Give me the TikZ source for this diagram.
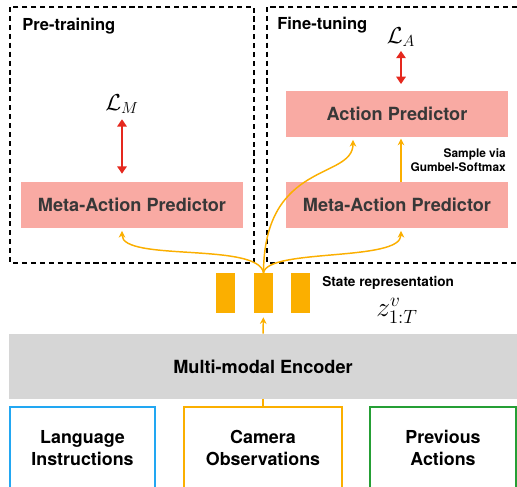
\documentclass[tikz,border=0pt]{standalone}
\usepackage[no-math]{fontspec}
\newfontfamily\hv{TeX Gyre Heros}
\usetikzlibrary{arrows.meta}
\definecolor{predpink}{HTML}{F9AAA3}
\definecolor{encgray}{HTML}{D6D6D6}
\definecolor{statorange}{HTML}{FBAF00}
\definecolor{inblue}{HTML}{22A7F2}
\definecolor{ingreen}{HTML}{259F35}
\definecolor{lossred}{HTML}{E5281E}
\definecolor{predtext}{HTML}{383838}
\tikzset{
  stage/.style={draw, line width=1.5pt, dash pattern=on 3.8pt off 2.9pt},
  title/.style={inner sep=0pt, font=\hv\bfseries\fontsize{12.4}{15}\selectfont},
  pred/.style={fill=predpink, text=predtext, inner sep=0pt,
    minimum width=166.5pt, minimum height=34.5pt,
    font=\hv\bfseries\fontsize{13.6}{16}\selectfont},
  bar/.style={fill=statorange, inner sep=0pt, minimum width=14.25pt, minimum height=30pt},
  inbox/.style={draw, line width=1.3pt, align=center, inner sep=0pt, minimum height=61.5pt,
    font=\hv\bfseries\fontsize{13.4}{16.5}\selectfont},
  lossname/.style={inner sep=0pt, font=\fontsize{17.28}{20}\selectfont},
  loss/.style={lossred, line width=2pt,
    {Triangle[width=7pt,length=5.5pt]}-{Triangle[width=7pt,length=5.5pt]}},
  feed/.style={statorange, line width=1.1pt, -{Stealth[length=5pt,width=5pt]}},
}
\begin{document}
\begin{tikzpicture}[x=0.75pt, y=-0.75pt]
      \clip (0,0) rectangle (517,486);
      \draw[stage] (10,7) rectangle (254,263);
      \draw[stage] (267,7) rectangle (520,263);
      \node[title, anchor=base west] (pre) at (22,30) {Pre-training};
      \node[title, anchor=base west] (fine) at (277,29.5) {Fine-tuning};
      \node[pred] (lmap) at (132,205) {Meta-Action Predictor};
      \node[pred] (rmap) at (397,205) {Meta-Action Predictor};
      \node[pred] (act) at (397,114) {Action Predictor};
      \node[lossname] (lm) at (122,104) {$\mathcal{L}_M$};
      \node[lossname] (la) at (401,37) {$\mathcal{L}_A$};
      \draw[loss, shorten <=4pt, shorten >=6pt] (lm) -- (lm |- lmap.north);
      \draw[loss, shorten <=3pt, shorten >=5pt] (la) -- (la |- act.north);
      \draw[feed, shorten >=1pt] (rmap.north -| la) -- (act.south -| la);
      \node[anchor=east, align=right, inner sep=0pt,
        font=\hv\bfseries\fontsize{8.9}{10.5}\selectfont] (gumbel) at (506,160)
        {Sample via\\Gumbel-Softmax};
      \def \Bars{b1/225.5, b2/263.5, b3/300.5}
      \foreach \id / \x in \Bars{
        \node[bar] (\id) at (\x, 293) {};
      }
      \node[anchor=west, inner sep=0pt,
        font=\hv\bfseries\fontsize{10.2}{12}\selectfont] (state) at (322,283) {State representation};
      \node[inner sep=0pt, font=\fontsize{20.74}{24}\selectfont] (z) at (397,311) {$z^{v}_{1:T}$};
      \draw[feed, shorten >=2pt] (b2.north) .. controls (258,242) and (122,262) .. (lm |- lmap.south);
      \draw[feed, shorten >=2pt] (b2.north) .. controls (264,160) and (353,180) .. ([xshift=-33pt]act.south);
      \draw[feed, shorten >=2pt] (b2.north) .. controls (268,248) and (401,262) .. (la |- rmap.south);
      \node[fill=encgray, inner sep=0pt, minimum width=381pt, minimum height=48.75pt,
        font=\hv\bfseries\fontsize{13.6}{16}\selectfont] (enc) at (263,366.5) {Multi-modal Encoder};
      \draw[feed, shorten >=3pt] (enc.north) -- (b2.south);
      \def \Inputs{
        lang/82.5/108.75/inblue/{Language\\Instructions},
        cam/263/118.5/statorange/{Camera\\Observations},
        prev/443/109.5/ingreen/{Previous\\Actions}}
      \foreach \id / \x / \w / \c / \t in \Inputs{
        \node[inbox, draw=\c, minimum width=\w pt] (\id) at (\x, 448) {\t};
      }
      \draw[statorange, line width=1.1pt] (cam.north) -- (enc.south);
    \end{tikzpicture}
\end{document}
